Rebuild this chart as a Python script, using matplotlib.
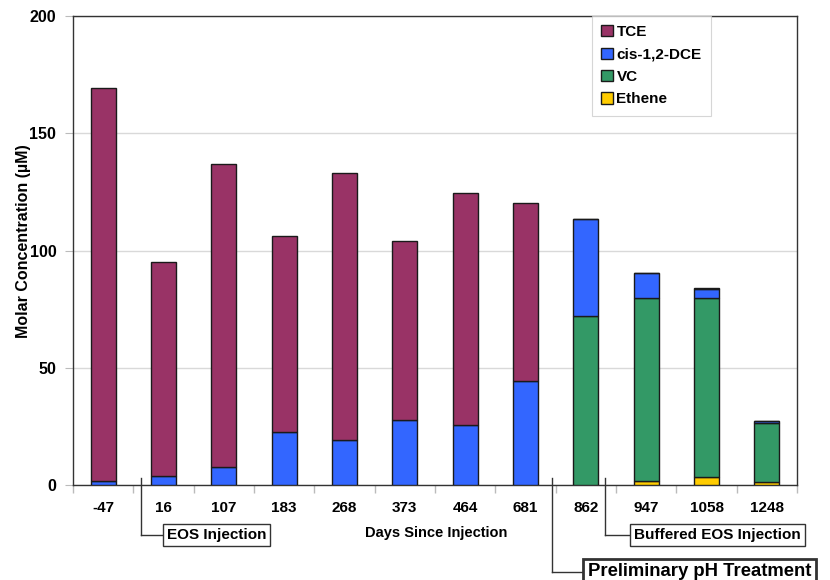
import matplotlib
matplotlib.use("Agg")
import matplotlib.pyplot as plt
import numpy as np
from matplotlib.lines import Line2D

plt.rcParams['font.family'] = ['Liberation Sans', 'DejaVu Sans']
plt.rcParams['font.weight'] = 'bold'

days = ['-47', '16', '107', '183', '268', '373', '464', '681', '862', '947', '1058', '1248']
ethene = [0, 0, 0, 0, 0, 0, 0, 0, 0, 1.9, 3.4, 1.3]
vc = [0, 0, 0, 0, 0, 0, 0, 0, 72.0, 78.1, 76.6, 25.2]
dce = [2.0, 4.1, 7.8, 22.7, 19.2, 28.0, 25.9, 44.5, 41.3, 10.4, 3.6, 1.0]
tce = [167.3, 91.2, 129.3, 83.7, 114.0, 76.1, 98.8, 76.0, 0, 0, 0.6, 0]

series = [('Ethene', ethene, '#FFCC00'), ('VC', vc, '#339966'),
          ('cis-1,2-DCE', dce, '#3366FF'), ('TCE', tce, '#993366')]

W, H = 830, 580
fig = plt.figure(figsize=(W / 100, H / 100), dpi=100)
ax = fig.add_axes([73 / W, 1 - 485.4 / H, (797 - 73) / W, (485.4 - 16) / H])

x = np.arange(len(days))
bottom = np.zeros(len(days))
handles = {}
for name, vals, col in series:
    v = np.array(vals, dtype=float)
    b = ax.bar(x, v, 0.41, bottom=bottom, color=col, edgecolor='#1a1a1a',
               linewidth=1.0, label=name, zorder=3)
    handles[name] = b
    bottom += v

ax.set_xlim(-0.5, len(days) - 0.5)
ax.set_ylim(0, 200)
ax.set_yticks([0, 50, 100, 150, 200])
ax.yaxis.grid(True, color='#d9d9d9', linewidth=1.0, zorder=0)
ax.set_axisbelow(True)
ax.set_xticks(x)
ax.set_xticklabels(days, fontsize=11, fontweight='bold')
ax.set_xticks(np.arange(len(days) + 1) - 0.5, minor=True)
ax.tick_params(axis='x', which='major', length=0, pad=11)
ax.tick_params(axis='x', which='minor', length=6, color='#bbbbbb', width=1)
ax.tick_params(axis='y', length=6, color='#bbbbbb', labelsize=11.5, pad=6)
for lab in ax.get_yticklabels():
    lab.set_fontweight('bold')
for s in ax.spines.values():
    s.set_color('#333333')
    s.set_linewidth(1.0)

ax.set_ylabel('Molar Concentration (µM)', fontsize=11.5, fontweight='bold')
ax.yaxis.set_label_coords(-0.058, 0.52)
fig.text(436 / W, 1 - 533 / H, 'Days Since Injection', ha='center', va='center',
         fontsize=10.5, fontweight='bold')

order = ['TCE', 'cis-1,2-DCE', 'VC', 'Ethene']
leg = ax.legend([handles[n] for n in order], order, loc='upper left',
                bbox_to_anchor=((592 - 73) / (797 - 73), 1.0), borderaxespad=0.0,
                frameon=True, fancybox=False, edgecolor='#cccccc',
                handlelength=0.75, handleheight=0.75, handletextpad=0.25,
                labelspacing=0.55, borderpad=0.6,
                prop={'weight': 'bold', 'size': 11})
leg.get_frame().set_linewidth(0.8)

def fy(py):
    return 1 - py / H

ann = [
    (0.627, 535, 167, 'EOS Injection', 11, 1.0),
    (8.32, 535, 634, 'Buffered EOS Injection', 11, 1.0),
    (7.44, 572, 588, 'Preliminary pH Treatment', 13.3, 2.0),
]
for xd, ypx, boxleft, txt, fs, blw in ann:
    xpx = ax.transData.transform((xd, 0))[0]
    fig.add_artist(Line2D([xpx / W, xpx / W], [fy(478), fy(ypx)],
                          transform=fig.transFigure, color='#333333', linewidth=1.0))
    fig.add_artist(Line2D([xpx / W, boxleft / W], [fy(ypx), fy(ypx)],
                          transform=fig.transFigure, color='#333333', linewidth=1.0))
    fig.text(boxleft / W, fy(ypx), txt, ha='left', va='center', fontsize=fs,
             fontweight='bold',
             bbox=dict(boxstyle='square,pad=0.25', facecolor='white',
                       edgecolor='#333333', linewidth=blw))

fig.savefig('out.png', dpi=100)
